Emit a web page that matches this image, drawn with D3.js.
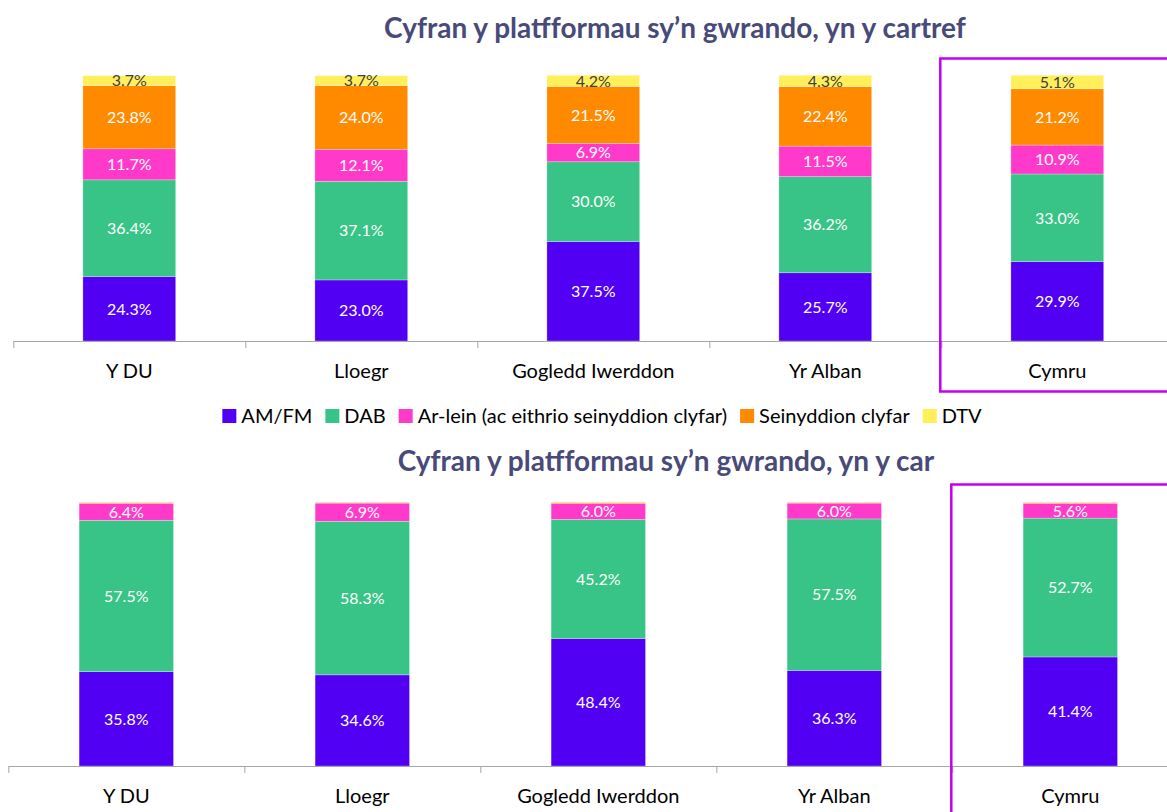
<!DOCTYPE html>
<html>
<head>
<meta charset="utf-8">
<script src="https://cdn.jsdelivr.net/npm/d3@7"></script>
<style>
  body { margin: 0; background: #fff; }
  svg { font-family: Lato, "Open Sans", sans-serif; display: block; }
  .axis path, .axis line { stroke: #a6a6a6; }
  .lab .domain { display: none; }
</style>
</head>
<body>
<svg id="chart" width="1167" height="812"></svg>
<script>
(function() {
    'use strict';

    var categories = ["Y DU", "Lloegr", "Gogledd Iwerddon", "Yr Alban", "Cymru"];
    var seriesNames = ["AM/FM", "DAB", "Ar-lein (ac eithrio seinyddion clyfar)", "Seinyddion clyfar", "DTV"];
    var seriesColors = ["#5200f3", "#38c486", "#ff3acb", "#ff8a00", "#ffef5a"];

    // in the home
    var homeAmFm   = [24.3, 23.0, 37.5, 25.7, 29.9];
    var homeDab    = [36.4, 37.1, 30.0, 36.2, 33.0];
    var homeOnline = [11.7, 12.1, 6.9, 11.5, 10.9];
    var homeSmart  = [23.8, 24.0, 21.5, 22.4, 21.2];
    var homeDtv    = [3.7, 3.7, 4.2, 4.3, 5.1];

    // in the car
    var carAmFm   = [35.8, 34.6, 48.4, 36.3, 41.4];
    var carDab    = [57.5, 58.3, 45.2, 57.5, 52.7];
    var carOnline = [6.4, 6.9, 6.0, 6.0, 5.6];
    var carSmart  = [0.3, 0.2, 0.4, 0.2, 0.3];
    var carDtv    = [0, 0, 0, 0, 0];

    var svg = d3.select("#chart");

    function toRows(cols) {
        return categories.map(function(c, i) {
            var r = {cat: c};
            seriesNames.forEach(function(s, j) { r[s] = cols[j][i]; });
            return r;
        });
    }

    function drawPanel(o) {
        var g = svg.append("g");
        var rows = toRows(o.cols);
        var stack = d3.stack().keys(seriesNames)(rows);

        var x = d3.scaleBand()
            .domain(categories)
            .range(o.xRange)
            .paddingInner(0.6)
            .paddingOuter(0.3);
        var y = d3.scaleLinear().domain([0, 100]).range(o.yRange);

        // title
        g.append("text")
            .attr("x", o.titleX)
            .attr("y", o.titleY)
            .attr("text-anchor", "middle")
            .attr("font-size", 28)
            .attr("font-weight", "bold")
            .attr("fill", "#484a79")
            .text(o.title);

        // bars
        var layers = g.selectAll(".layer")
            .data(stack)
            .enter().append("g")
            .attr("fill", function(d, i) { return seriesColors[i]; });
        layers.selectAll("rect")
            .data(function(d) { return d; })
            .enter().append("rect")
            .attr("x", function(d) { return x(d.data.cat); })
            .attr("width", x.bandwidth())
            .attr("y", function(d) { return y(d[1]); })
            .attr("height", function(d) { return y(d[0]) - y(d[1]); })
            .attr("stroke", "#ffffff")
            .attr("stroke-opacity", 0.45)
            .attr("stroke-width", 0.6);

        // value labels
        layers.each(function(layer, li) {
            d3.select(this).selectAll("text")
                .data(layer.filter(function(d) { return d[1] - d[0] >= 1; }))
                .enter().append("text")
                .attr("x", function(d) { return x(d.data.cat) + x.bandwidth() / 2; })
                .attr("y", function(d) { return (y(d[0]) + y(d[1])) / 2; })
                .attr("dy", "0.36em")
                .attr("text-anchor", "middle")
                .attr("font-size", 16)
                .attr("fill", li === 4 ? "#404040" : "#ffffff")
                .text(function(d) { return (d[1] - d[0]).toFixed(1) + "%"; });
        });

        // axis line with ticks between categories
        var xb = d3.scaleLinear().domain([0, categories.length]).range(o.xRange);
        g.append("g")
            .attr("class", "axis")
            .attr("transform", "translate(0," + o.yRange[0] + ")")
            .call(d3.axisBottom(xb)
                .tickValues(d3.range(categories.length + 1))
                .tickFormat("")
                .tickSize(7)
                .tickSizeOuter(0));

        // category labels
        g.append("g")
            .attr("class", "axis lab")
            .attr("transform", "translate(0," + o.yRange[0] + ")")
            .call(d3.axisBottom(x).tickSize(0).tickPadding(23))
            .selectAll("text")
            .attr("font-family", "Lato, sans-serif")
            .attr("font-size", 20)
            .attr("fill", "#000");

        // highlight frame round Cymru
        var bx = xb(categories.length - 1) - 1;
        g.append("rect")
            .attr("x", bx)
            .attr("y", o.boxTop)
            .attr("width", 400)
            .attr("height", o.boxBottom - o.boxTop)
            .attr("fill", "none")
            .attr("stroke", "#c300f2")
            .attr("stroke-width", 2.5);

        return g;
    }

    drawPanel({
        cols: [homeAmFm, homeDab, homeOnline, homeSmart, homeDtv],
        xRange: [13.3, 1173.3],
        yRange: [341, 75.5],
        title: "Cyfran y platfformau sy\u2019n gwrando, yn y cartref",
        titleX: 675, titleY: 38,
        boxTop: 58.5, boxBottom: 391.5
    });

    drawPanel({
        cols: [carAmFm, carDab, carOnline, carSmart, carDtv],
        xRange: [8.3, 1188.3],
        yRange: [766, 502.6],
        title: "Cyfran y platfformau sy\u2019n gwrando, yn y car",
        titleX: 666, titleY: 471,
        boxTop: 484.5, boxBottom: 900
    });

    // legend
    var legend = svg.append("g").attr("transform", "translate(0,416)");
    var items = legend.selectAll("g")
        .data(seriesNames)
        .enter().append("g");
    items.append("rect")
        .attr("y", -7)
        .attr("width", 14)
        .attr("height", 14)
        .attr("fill", function(d, i) { return seriesColors[i]; });
    items.append("text")
        .attr("x", 19)
        .attr("dy", "0.36em")
        .attr("font-size", 20)
        .attr("fill", "#000")
        .text(function(d) { return d; });
    var pos = 0, offsets = [];
    items.each(function() {
        offsets.push(pos);
        pos += 19 + this.querySelector("text").getComputedTextLength() + 13;
    });
    var total = pos - 13, start = 602 - total / 2;
    items.attr("transform", function(d, i) { return "translate(" + (start + offsets[i]) + ",0)"; });
})();
</script>
</body>
</html>
